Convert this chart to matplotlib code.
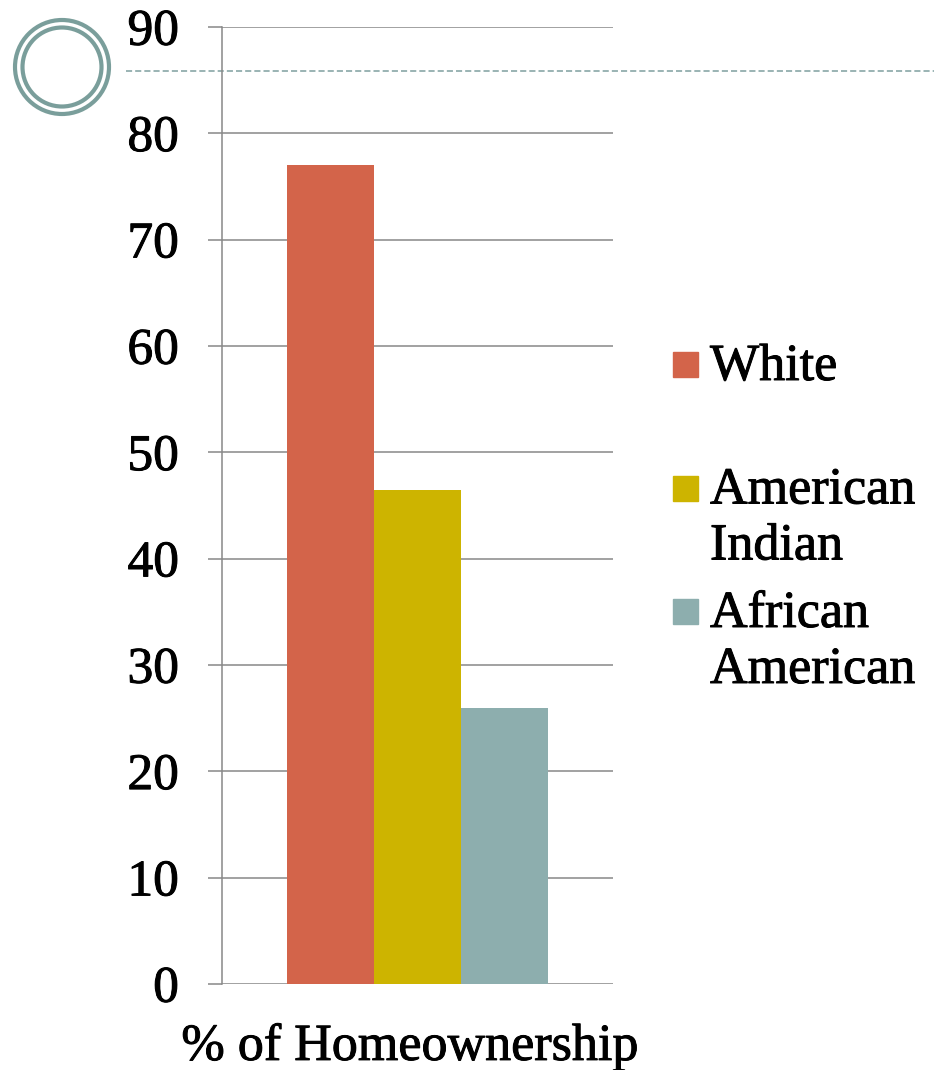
import matplotlib.pyplot as plt
import matplotlib.patheffects as pe
from matplotlib.patches import Circle, Rectangle

# homeownership rate by group (%)
groups = ["White", "American\nIndian", "African\nAmerican"]
rates = [77.0, 46.5, 26.0]
colors = ["#D3644A", "#CDB400", "#8DAEAE"]
yticks = [0, 10, 20, 30, 40, 50, 60, 70, 80, 90]
xlabel = "% of Homeownership"

W, H = 934, 1070
plt.rcParams["font.family"] = "Liberation Serif"
fig = plt.figure(figsize=(W / 100, H / 100), dpi=100)

# slightly heavier strokes for the serif text
heavy = [pe.withStroke(linewidth=0.7, foreground="black")]

# main bar axes
ax = fig.add_axes([222 / W, 1 - 984 / H, (613 - 222) / W, (984 - 27) / H])
ax.patch.set_alpha(0)
bw = 0.2233
for i, (g, r, c) in enumerate(zip(groups, rates, colors)):
    ax.bar((i - 1) * bw, r, width=bw, color=c, zorder=3)

ax.set_xlim(-0.5, 0.5)
ax.set_ylim(0, 90)
ax.set_yticks(yticks)
ax.set_xticks([])
ax.grid(axis="y", color="#888888", linewidth=1.1, zorder=0)
for s in ["top", "right", "bottom"]:
    ax.spines[s].set_visible(False)
ax.spines["left"].set_color("#888888")
ax.spines["left"].set_linewidth(1.1)
ax.tick_params(axis="y", length=10, width=1.1, color="#888888",
               pad=21, labelsize=37)
for t in ax.get_yticklabels():
    t.set_path_effects(heavy)
ax.set_xlabel(xlabel, fontsize=37.5, labelpad=28, path_effects=heavy)
ax.xaxis.label.set_x(0.481)

# overlay in pixel coordinates for decoration and legend
ov = fig.add_axes([0, 0, 1, 1], zorder=-1)
ov.set_xlim(0, W)
ov.set_ylim(H, 0)
ov.axis("off")

ring = "#7A9E9B"
ov.add_patch(Circle((62, 67), 47, fill=False, edgecolor=ring, linewidth=3))
ov.add_patch(Circle((62, 67), 39.5, fill=False, edgecolor=ring, linewidth=3))
ov.plot([126, W], [71, 71], color="#7F9F9F", linewidth=1.1,
        dashes=(4, 2))

# legend
leg = fig.add_axes([0, 0, 1, 1])
leg.set_xlim(0, W)
leg.set_ylim(H, 0)
leg.axis("off")
base = 380
for i, (g, c) in enumerate(zip(groups, colors)):
    y0 = base + i * 123.5
    leg.add_patch(Rectangle((673, y0 - 28), 25, 25, color=c))
    for j, line in enumerate(g.split("\n")):
        leg.text(710, y0 + j * 56, line, fontsize=37.5, va="baseline",
                 ha="left", path_effects=heavy)

fig.savefig("out.png", dpi=100)
